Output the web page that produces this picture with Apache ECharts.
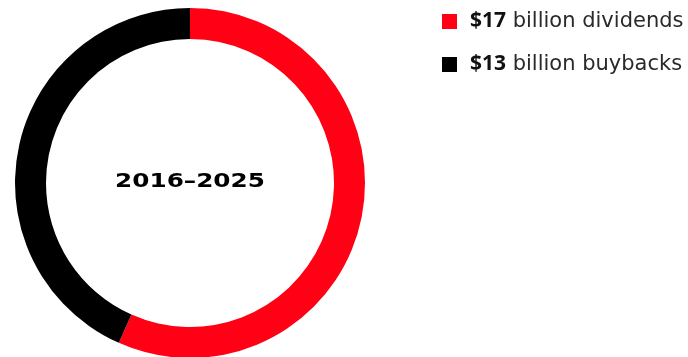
<!DOCTYPE html>
<html>
<head>
<meta charset="utf-8">
<script src="https://cdn.jsdelivr.net/npm/echarts@6/dist/echarts.min.js"></script>
<style>
  html, body { margin: 0; padding: 0; background: #ffffff; }
  #chart { width: 688px; height: 357px; }
</style>
</head>
<body>
<div id="chart"></div>
<script>
// Shareholder returns, 2016–2025 (billions of dollars)
const categories = ['dividends', 'buybacks'];
const values = [17, 13];
const colors = ['#ff0014', '#000000'];
const periodLabel = '2016–2025';

const chart = echarts.init(document.getElementById('chart'), null, { renderer: 'canvas' });

const seriesData = categories.map((name, i) => ({
  name: name,
  value: values[i],
  itemStyle: { color: colors[i] }
}));

chart.setOption({
  animation: false,
  backgroundColor: '#ffffff',
  legend: {
    orient: 'vertical',
    left: 437,
    top: 6,
    itemWidth: 15,
    itemHeight: 15,
    itemGap: 22,
    icon: 'rect',
    selectedMode: false,
    data: categories,
    formatter: function (name) {
      const i = categories.indexOf(name);
      return '{v|$' + values[i] + '}{t| billion ' + name + '}';
    },
    textStyle: {
      rich: {
        v: { fontFamily: 'Open Sans', fontWeight: 'bold', fontSize: 21, color: '#111111', lineHeight: 22, padding: [0, 0, 0, 8] },
        t: { fontFamily: 'DejaVu Sans', fontSize: 21, color: '#2a2a2a', lineHeight: 22 }
      }
    }
  },
  graphic: [{
    type: 'text',
    x: 190,
    y: 182,
    scaleX: 1.3,
    style: {
      text: periodLabel,
      fontFamily: 'DejaVu Sans',
      fontWeight: 'bold',
      fontSize: 19,
      fill: '#000000',
      textAlign: 'center',
      textVerticalAlign: 'middle'
    }
  }],
  series: [{
    type: 'pie',
    center: [190, 183],
    radius: [144, 175],
    startAngle: 90,
    clockwise: true,
    silent: true,
    label: { show: false },
    labelLine: { show: false },
    itemStyle: { borderWidth: 0 },
    data: seriesData
  }]
});
</script>
</body>
</html>
